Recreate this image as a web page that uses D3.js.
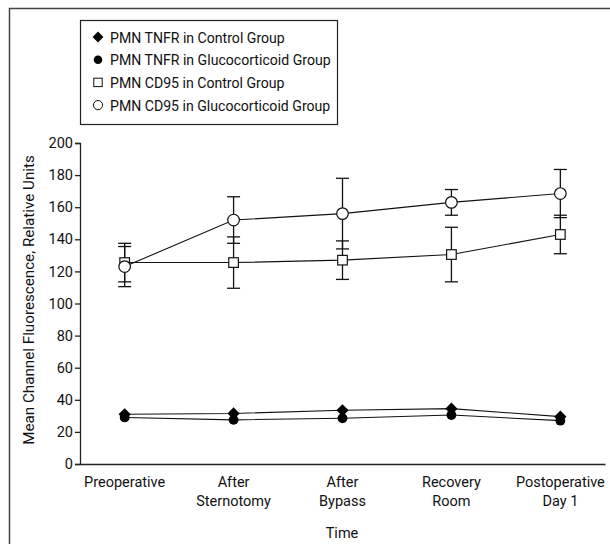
<!DOCTYPE html>
<html>
<head>
<meta charset="utf-8">
<script src="https://cdn.jsdelivr.net/npm/d3@7"></script>
<style>
  body { margin: 0; background: #fff; }
  svg text { font-family: Roboto, "Liberation Sans", sans-serif; fill: #111; }
</style>
</head>
<body>
<svg id="chart" width="610" height="544"></svg>
<script>
// categories on the x axis (lines split with \n)
const categories = ["Preoperative", "After\nSternotomy", "After\nBypass", "Recovery\nRoom", "Postoperative\nDay 1"];
const yTicks = [0, 20, 40, 60, 80, 100, 120, 140, 160, 180, 200];

// series values
const tnfrControl = [31, 31.5, 33.5, 34.5, 29.5];
const tnfrGluco = [29, 27.5, 28.5, 30.5, 27];
const cd95Control = [125.5, 125.5, 127, 130.5, 143];
const cd95ControlErr = [12, 16, 12, 17, 12];
const cd95Gluco = [123, 152, 156, 163, 168.5];
const cd95GlucoErr = [12.5, 14.5, 22, 8, 15];

const legendLabels = [
  "PMN TNFR in Control Group",
  "PMN TNFR in Glucocorticoid Group",
  "PMN CD95 in Control Group",
  "PMN CD95 in Glucocorticoid Group"
];

const fs = 14.5;
const svg = d3.select("#chart");

// outer frame (only top and left edges visible)
svg.append("path")
  .attr("d", "M9.5,544V8.5H610")
  .attr("fill", "none")
  .attr("stroke", "#444")
  .attr("stroke-width", 1.5);

const x = d3.scalePoint().domain(categories).range([80, 605]).padding(0.41);
const y = d3.scaleLinear().domain([0, 200]).range([464, 143]);

// y axis
const yAxis = svg.append("g")
  .attr("transform", "translate(80,0)")
  .call(d3.axisLeft(y).tickValues(yTicks).tickSize(5).tickPadding(2));
yAxis.attr("font-family", null).attr("font-size", fs);
yAxis.selectAll("line, path").attr("stroke", "#222").attr("stroke-width", 1.3);

// x axis (no ticks)
const xAxis = svg.append("g")
  .attr("transform", "translate(0,464)")
  .call(d3.axisBottom(x).tickSize(0).tickFormat(""));
xAxis.select("path").attr("stroke", "#222").attr("stroke-width", 1.3);

// multi-line category labels
svg.append("g").selectAll("text")
  .data(categories)
  .join("text")
  .attr("x", d => x(d))
  .attr("y", 487)
  .attr("text-anchor", "middle")
  .attr("font-size", fs)
  .each(function(d) {
    d.split("\n").forEach((part, i) => {
      d3.select(this).append("tspan")
        .attr("x", x(d))
        .attr("dy", i === 0 ? 0 : 18.5)
        .text(part);
    });
  });

// axis titles
svg.append("text")
  .attr("x", 342).attr("y", 538)
  .attr("text-anchor", "middle")
  .attr("font-size", fs)
  .text("Time");

svg.append("text")
  .attr("transform", "translate(34,300) rotate(-90)")
  .attr("text-anchor", "middle")
  .attr("font-size", 15.2)
  .text("Mean Channel Fluorescence, Relative Units");

// lines
const line = d3.line().x((d, i) => x(categories[i])).y(d => y(d));
[tnfrControl, tnfrGluco, cd95Control, cd95Gluco].forEach(vals => {
  svg.append("path")
    .datum(vals)
    .attr("d", line)
    .attr("fill", "none")
    .attr("stroke", "#111")
    .attr("stroke-width", 1.1);
});

// error bars for CD95 series
function errorBars(vals, errs) {
  const g = svg.append("g").attr("stroke", "#111").attr("stroke-width", 1.3);
  vals.forEach((v, i) => {
    const cx = x(categories[i]);
    g.append("line").attr("x1", cx).attr("x2", cx).attr("y1", y(v - errs[i])).attr("y2", y(v + errs[i]));
    [v - errs[i], v + errs[i]].forEach(e => {
      g.append("line").attr("x1", cx - 6.5).attr("x2", cx + 6.5).attr("y1", y(e)).attr("y2", y(e));
    });
  });
}
errorBars(cd95Control, cd95ControlErr);
errorBars(cd95Gluco, cd95GlucoErr);

// markers
const diamond = d3.symbol().type(d3.symbolDiamond2).size(95);
svg.append("g").selectAll("path")
  .data(tnfrControl)
  .join("path")
  .attr("d", diamond)
  .attr("transform", (d, i) => `translate(${x(categories[i])},${y(d)})`)
  .attr("fill", "#000");

svg.append("g").selectAll("circle")
  .data(tnfrGluco)
  .join("circle")
  .attr("cx", (d, i) => x(categories[i]))
  .attr("cy", d => y(d))
  .attr("r", 4.9)
  .attr("fill", "#000");

svg.append("g").selectAll("rect")
  .data(cd95Control)
  .join("rect")
  .attr("x", (d, i) => x(categories[i]) - 4.8)
  .attr("y", d => y(d) - 4.8)
  .attr("width", 9.6).attr("height", 9.6)
  .attr("fill", "#fff").attr("stroke", "#111").attr("stroke-width", 1.2);

svg.append("g").selectAll("circle")
  .data(cd95Gluco)
  .join("circle")
  .attr("cx", (d, i) => x(categories[i]))
  .attr("cy", d => y(d))
  .attr("r", 5.8)
  .attr("fill", "#fff").attr("stroke", "#111").attr("stroke-width", 1.2);

// legend
const legend = svg.append("g");
legend.append("rect")
  .attr("x", 80.5).attr("y", 20.5)
  .attr("width", 257).attr("height", 104)
  .attr("fill", "#fff").attr("stroke", "#222").attr("stroke-width", 1.2);

const rows = legend.selectAll("g")
  .data(legendLabels)
  .join("g")
  .attr("transform", (d, i) => `translate(98,${37 + i * 22.7})`);

rows.append("text")
  .attr("x", 12).attr("y", 5.5)
  .attr("font-size", 14.1)
  .text(d => d);

rows.each(function(d, i) {
  const r = d3.select(this);
  if (i === 0) r.append("path").attr("d", d3.symbol().type(d3.symbolDiamond2).size(75)).attr("fill", "#000");
  if (i === 1) r.append("circle").attr("r", 4.3).attr("fill", "#000");
  if (i === 2) r.append("rect").attr("x", -4.2).attr("y", -4.2).attr("width", 8.4).attr("height", 8.4)
    .attr("fill", "#fff").attr("stroke", "#111").attr("stroke-width", 1);
  if (i === 3) r.append("circle").attr("r", 4.6).attr("fill", "#fff").attr("stroke", "#111").attr("stroke-width", 1);
});
</script>
</body>
</html>
